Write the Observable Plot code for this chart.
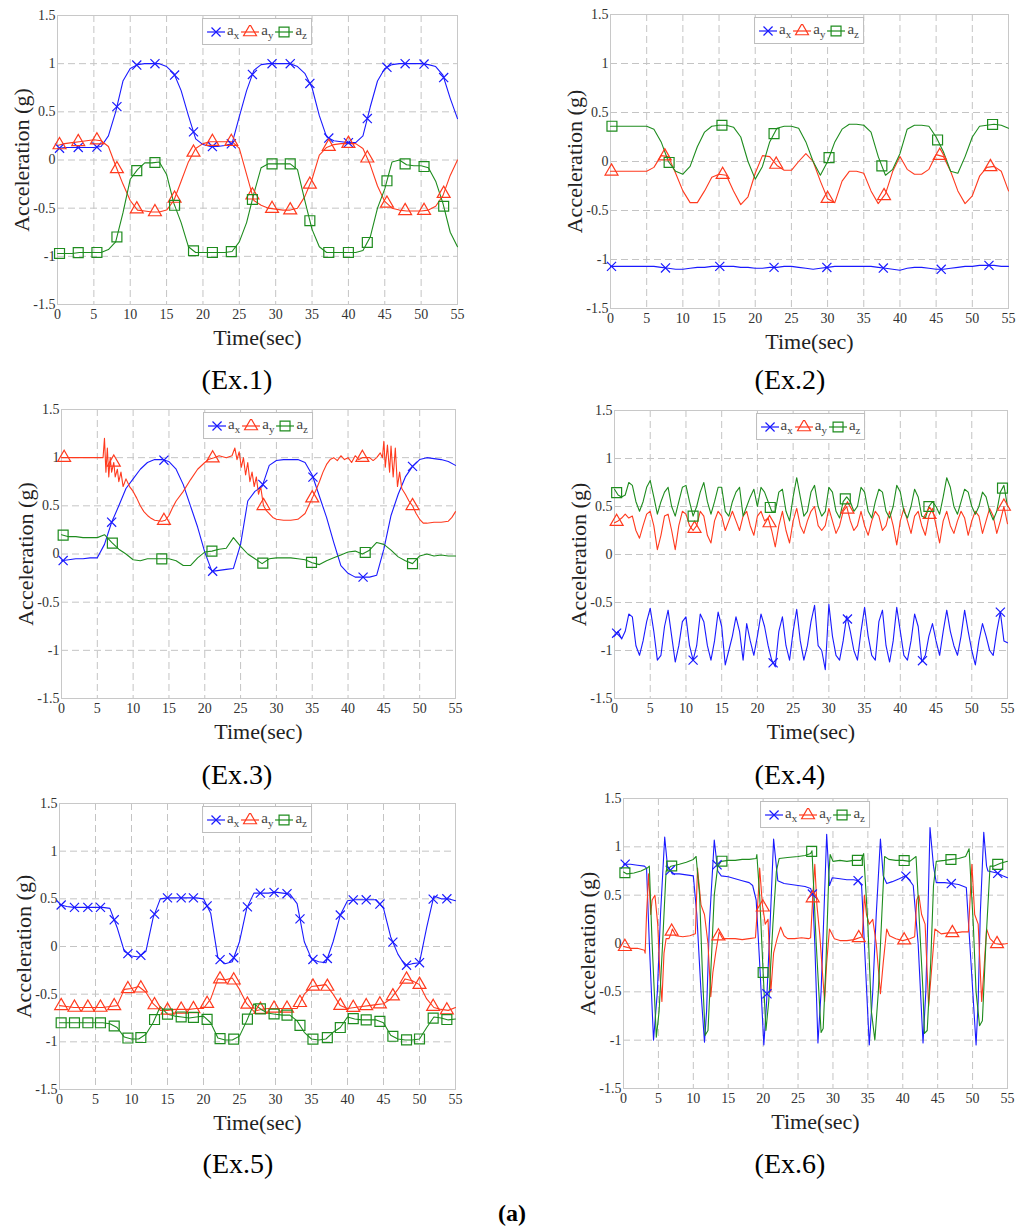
<!DOCTYPE html>
<html>
<head>
<meta charset="utf-8">
<script src="https://cdn.jsdelivr.net/npm/d3@7"></script>
<script src="https://cdn.jsdelivr.net/npm/@observablehq/plot@0.6"></script>
<style>
  body { margin: 0; background: #fff; }
  #page { position: relative; width: 1024px; height: 1229px; overflow: hidden;
          font-family: "Liberation Serif", "DejaVu Serif", serif; }
  #page svg, #page svg text { font-family: "Liberation Serif", "DejaVu Serif", serif !important; }
  .panel { position: absolute; }
  .legend { position: absolute; display: flex; align-items: center; height: 25px; padding: 0 3px;
            border: 1px solid #bdbdbd; background: #fff; transform: translateX(-50%); }
  .legend .item { display: flex; align-items: center; }
  .legend .lab { font-size: 15px; color: #444; line-height: 1; margin: 0 1px 0 1px; }
  .legend sub { font-size: 11px; }
  .caption { position: absolute; width: 200px; text-align: center; font-size: 28px; line-height: 32px; color: #000; }
</style>
</head>
<body>
<div id="page"></div>
<script>
// sampling grids (seconds)
const secs = d3.range(0, 56);
const halfSecs = d3.range(0, 111).map(i => i / 2);
const xTicks = d3.range(0, 56, 5);
const yTicks = [-1.5, -1, -0.5, 0, 0.5, 1, 1.5];

// ---- Ex.1 (1 s grid)
const ex1Ax = [0.12,0.13,0.13,0.13,0.13,0.13,0.14,0.25,0.5,0.82,
  0.95,0.99,1.0,1.0,1.0,0.97,0.9,0.72,0.46,0.22,
  0.16,0.14,0.14,0.15,0.17,0.45,0.72,0.93,0.99,1.0,
  1.0,1.0,1.0,0.97,0.9,0.75,0.46,0.24,0.2,0.19,
  0.18,0.18,0.25,0.55,0.82,0.95,0.99,1.0,1.0,1.0,
  1.0,0.99,0.97,0.88,0.64,0.43];
const ex1Ay = [0.15,0.17,0.18,0.19,0.2,0.21,0.2,0.14,-0.06,-0.25,
  -0.42,-0.52,-0.53,-0.54,-0.54,-0.52,-0.42,-0.22,-0.02,0.12,
  0.17,0.19,0.19,0.19,0.19,0.12,-0.15,-0.42,-0.47,-0.5,
  -0.51,-0.52,-0.52,-0.5,-0.38,-0.2,0.05,0.13,0.16,0.17,
  0.17,0.17,0.12,-0.05,-0.27,-0.43,-0.5,-0.52,-0.53,-0.53,
  -0.53,-0.52,-0.48,-0.37,-0.16,0.0];
const ex1Az = [-0.97,-0.97,-0.97,-0.96,-0.96,-0.96,-0.96,-0.93,-0.85,-0.55,
  -0.2,-0.1,-0.03,-0.03,-0.02,-0.15,-0.45,-0.65,-0.9,-0.96,
  -0.96,-0.96,-0.96,-0.96,-0.95,-0.85,-0.65,-0.35,-0.08,-0.04,
  -0.04,-0.04,-0.04,-0.1,-0.42,-0.72,-0.9,-0.96,-0.96,-0.96,
  -0.96,-0.96,-0.94,-0.8,-0.5,-0.3,-0.02,0.0,-0.05,-0.06,
  -0.06,-0.08,-0.22,-0.45,-0.75,-0.9];
const ex1Marks = [0.28,2.85,5.42,8.17,10.9,13.4,16.1,18.7,21.3,23.9,26.8,29.5,32.0,34.7,37.3,40.0,42.6,45.3,47.8,50.4,53.1];

// ---- Ex.2 (1 s grid)
const ex2Ax = [-1.07,-1.07,-1.07,-1.07,-1.07,-1.07,-1.07,-1.08,-1.09,-1.1,
  -1.1,-1.09,-1.08,-1.08,-1.07,-1.07,-1.07,-1.07,-1.08,-1.08,
  -1.09,-1.09,-1.08,-1.08,-1.07,-1.07,-1.08,-1.09,-1.1,-1.09,
  -1.08,-1.07,-1.07,-1.07,-1.07,-1.07,-1.07,-1.08,-1.09,-1.1,
  -1.11,-1.09,-1.08,-1.08,-1.09,-1.1,-1.1,-1.09,-1.08,-1.07,
  -1.07,-1.06,-1.06,-1.06,-1.07,-1.07];
const ex2Ay = [-0.1,-0.1,-0.1,-0.1,-0.1,-0.1,-0.06,0.06,0.05,-0.12,
  -0.3,-0.42,-0.42,-0.3,-0.16,-0.13,-0.14,-0.3,-0.44,-0.36,
  -0.12,0.06,0.05,-0.04,-0.09,-0.09,0.0,0.08,0.0,-0.2,
  -0.38,-0.42,-0.2,-0.1,-0.1,-0.12,-0.3,-0.43,-0.33,-0.1,
  0.05,-0.08,-0.13,-0.13,-0.08,0.07,0.05,-0.1,-0.3,-0.43,
  -0.35,-0.15,-0.06,-0.05,-0.1,-0.3];
const ex2Az = [0.36,0.36,0.36,0.36,0.36,0.36,0.33,0.2,0.0,-0.1,
  -0.13,-0.05,0.15,0.3,0.36,0.37,0.37,0.35,0.25,0.0,
  -0.18,-0.05,0.2,0.34,0.36,0.36,0.34,0.2,0.0,-0.14,
  0.0,0.2,0.33,0.38,0.38,0.37,0.3,0.05,-0.14,-0.08,
  0.08,0.33,0.37,0.37,0.36,0.25,0.1,-0.1,-0.12,0.05,
  0.25,0.36,0.37,0.38,0.37,0.34];
const ex2MarksAx = [0.14,7.6,15.1,22.6,29.9,37.7,45.7,52.3];
const ex2MarksAy = [0.14,7.5,15.5,22.9,30.0,37.8,45.5,52.5];
const ex2MarksAz = [0.2,8.1,15.4,22.6,30.2,37.5,45.2,52.8];

// ---- Ex.3 (1 s grid for ax/az, vertices for the noisy ay)
const ex3Ax = [-0.07,-0.06,-0.05,-0.05,-0.04,-0.04,0.1,0.33,0.5,0.68,
  0.78,0.88,0.95,0.98,0.98,0.96,0.88,0.72,0.5,0.28,
  0.02,-0.18,-0.17,-0.16,-0.15,0.1,0.55,0.65,0.7,0.92,
  0.97,0.98,0.98,0.98,0.95,0.82,0.6,0.38,0.12,-0.12,
  -0.2,-0.24,-0.24,-0.24,-0.22,0.05,0.4,0.62,0.8,0.91,
  0.98,1.0,0.99,0.98,0.96,0.92];
const ex3Ay = [[0,1.0],[2,1.0],[4,1.0],[5.8,1.0],[6.0,1.2],[6.2,0.85],[6.4,1.1],[6.6,0.8],[6.8,1.0],[7.0,0.85],
  [7.3,0.95],[7.5,0.8],[7.8,0.88],[8.0,0.75],[8.3,0.85],[8.6,0.7],[9.0,0.78],[9.5,0.7],[10,0.65],[10.5,0.58],
  [11,0.5],[11.5,0.44],[12,0.4],[12.5,0.37],[13,0.35],[14,0.34],[14.5,0.35],[15,0.4],[15.5,0.48],[16,0.55],
  [17,0.65],[18,0.77],[19,0.88],[20,0.95],[20.5,0.98],[21.3,1.0],[22,1.02],[23,1.0],[23.8,1.02],[24.2,1.1],
  [24.5,0.98],[24.8,1.06],[25.1,0.9],[25.4,1.0],[25.7,0.82],[26,0.95],[26.3,0.75],[26.6,0.85],[26.9,0.7],[27.2,0.8],
  [27.5,0.62],[27.8,0.7],[28.2,0.5],[28.6,0.45],[29,0.42],[29.5,0.38],[30,0.36],[31,0.35],[32,0.35],[33,0.36],
  [34,0.42],[34.5,0.5],[35,0.58],[35.5,0.66],[36,0.75],[36.5,0.85],[37,0.93],[37.5,0.98],[38,1.0],[38.5,0.97],
  [39,1.02],[39.5,0.98],[40,1.0],[40.5,0.95],[41,1.02],[41.5,0.98],[42,1.0],[43,1.0],[43.5,0.97],[44,1.0],
  [44.5,1.05],[44.8,1.0],[45,1.17],[45.2,0.9],[45.5,1.13],[45.8,0.85],[46,1.12],[46.3,0.8],[46.6,1.1],[46.9,0.7],
  [47.2,0.85],[47.5,0.68],[48,0.62],[48.5,0.55],[49,0.5],[49.5,0.42],[50,0.36],[50.5,0.32],[51,0.32],[52,0.33],
  [53,0.33],[54,0.34],[54.5,0.38],[55,0.44]];
const ex3Az = [0.2,0.18,0.18,0.17,0.17,0.17,0.2,0.12,0.05,0.0,
  -0.06,-0.07,-0.05,-0.05,-0.05,-0.05,-0.07,-0.12,-0.12,-0.04,
  0.02,0.03,0.05,0.06,0.17,0.08,0.0,-0.05,-0.1,-0.05,
  -0.04,-0.04,-0.04,-0.05,-0.06,-0.09,-0.11,-0.07,-0.04,-0.01,
  0.02,0.03,0.0,0.04,0.12,0.1,0.04,-0.03,-0.07,-0.1,
  -0.02,0.0,-0.02,-0.01,-0.02,-0.02];
const ex3MarksAx = [0.23,7.0,14.3,21.1,28.1,35.1,42.1,49.0];
const ex3MarksAy = [0.37,7.3,14.3,21.1,28.2,35.0,42.0,49.0];
const ex3MarksAz = [0.23,7.1,14.0,21.0,28.1,34.9,42.4,49.0];

// ---- Ex.4 (0.5 s grid)
const ex4Ax = [-0.85,-0.8,-0.88,-0.8,-0.62,-0.65,-0.95,-1.05,-0.9,-0.7,
  -0.56,-0.8,-1.1,-1.05,-0.75,-0.58,-0.85,-1.12,-0.95,-0.7,
  -0.65,-0.95,-1.1,-0.95,-0.62,-0.7,-0.95,-1.1,-0.9,-0.6,
  -0.75,-1.15,-1.0,-0.85,-0.65,-0.8,-1.1,-0.72,-0.9,-1.05,
  -0.85,-0.62,-0.75,-0.95,-1.1,-1.17,-0.8,-0.65,-0.95,-1.1,
  -0.8,-0.57,-0.9,-1.1,-0.95,-0.7,-0.53,-0.95,-1.0,-1.2,
  -0.52,-0.85,-1.05,-1.1,-0.9,-0.64,-0.8,-1.0,-1.1,-0.8,
  -0.55,-0.85,-1.05,-1.1,-0.7,-0.58,-0.95,-1.12,-0.9,-0.55,
  -0.8,-1.05,-1.1,-0.9,-0.62,-0.75,-1.12,-1.05,-0.85,-0.72,
  -0.9,-1.05,-0.8,-0.58,-0.8,-0.95,-1.05,-0.85,-0.58,-0.8,
  -1.0,-1.15,-0.9,-0.72,-0.85,-1.0,-1.05,-0.8,-0.6,-0.9,
  -0.92];
const ex4Ay = [0.33,0.35,0.38,0.42,0.38,0.4,0.25,0.17,0.3,0.42,
  0.45,0.3,0.05,0.2,0.4,0.42,0.25,0.05,0.3,0.45,
  0.42,0.3,0.25,0.3,0.45,0.4,0.2,0.12,0.35,0.45,
  0.4,0.25,0.35,0.45,0.35,0.25,0.4,0.45,0.3,0.2,
  0.4,0.45,0.35,0.38,0.25,0.08,0.3,0.45,0.25,0.12,
  0.35,0.48,0.3,0.22,0.35,0.45,0.5,0.3,0.25,0.3,
  0.48,0.35,0.22,0.3,0.45,0.5,0.35,0.25,0.3,0.45,
  0.3,0.2,0.35,0.45,0.4,0.25,0.3,0.45,0.3,0.1,
  0.35,0.48,0.35,0.22,0.4,0.45,0.3,0.2,0.4,0.48,
  0.3,0.12,0.35,0.45,0.3,0.22,0.35,0.45,0.38,0.2,
  0.35,0.45,0.4,0.22,0.35,0.48,0.4,0.22,0.35,0.5,
  0.32];
const ex4Az = [0.68,0.62,0.6,0.62,0.75,0.72,0.55,0.45,0.55,0.7,
  0.77,0.6,0.42,0.55,0.65,0.7,0.5,0.4,0.55,0.7,
  0.72,0.55,0.4,0.5,0.65,0.75,0.55,0.42,0.55,0.7,
  0.7,0.45,0.4,0.55,0.65,0.7,0.4,0.5,0.6,0.68,
  0.5,0.7,0.65,0.55,0.45,0.45,0.65,0.68,0.45,0.35,
  0.6,0.8,0.6,0.4,0.45,0.65,0.72,0.5,0.4,0.45,
  0.7,0.65,0.45,0.38,0.55,0.6,0.55,0.45,0.5,0.7,
  0.65,0.45,0.38,0.55,0.68,0.65,0.45,0.38,0.5,0.72,
  0.65,0.45,0.38,0.5,0.68,0.6,0.4,0.38,0.5,0.55,
  0.5,0.42,0.6,0.8,0.7,0.5,0.42,0.55,0.68,0.65,
  0.5,0.42,0.5,0.65,0.6,0.45,0.36,0.45,0.65,0.72,
  0.5];
const ex4MarksAx = [0.3,11,22.2,32.6,43.1,54];
const ex4MarksAy = [0.3,11.2,21.7,32.6,44.1,54.5];
const ex4MarksAz = [0.3,11.0,21.8,32.3,44.0,54.3];

// ---- Ex.5 (1 s grid)
const ex5Ax = [0.44,0.42,0.41,0.41,0.41,0.41,0.41,0.4,0.2,-0.05,
  -0.1,-0.11,-0.05,0.3,0.5,0.51,0.51,0.51,0.51,0.51,
  0.5,0.35,-0.12,-0.18,-0.16,0.05,0.4,0.56,0.56,0.56,
  0.57,0.56,0.55,0.45,0.05,-0.13,-0.16,-0.17,0.05,0.33,
  0.48,0.49,0.49,0.49,0.49,0.4,0.1,-0.08,-0.2,-0.18,
  -0.17,0.2,0.53,0.5,0.5,0.48];
const ex5Ay = [-0.62,-0.63,-0.64,-0.64,-0.64,-0.64,-0.64,-0.63,-0.62,-0.45,
  -0.44,-0.42,-0.48,-0.6,-0.67,-0.67,-0.66,-0.66,-0.66,-0.65,
  -0.65,-0.55,-0.34,-0.35,-0.33,-0.45,-0.6,-0.68,-0.66,-0.65,
  -0.65,-0.65,-0.65,-0.65,-0.5,-0.42,-0.41,-0.4,-0.5,-0.62,
  -0.65,-0.64,-0.63,-0.62,-0.61,-0.6,-0.55,-0.45,-0.34,-0.36,
  -0.4,-0.55,-0.64,-0.66,-0.67,-0.64];
const ex5Az = [-0.8,-0.8,-0.8,-0.8,-0.8,-0.8,-0.8,-0.81,-0.85,-0.95,
  -0.97,-0.97,-0.92,-0.8,-0.63,-0.71,-0.73,-0.74,-0.75,-0.74,
  -0.73,-0.8,-0.96,-0.98,-0.98,-0.94,-0.78,-0.6,-0.66,-0.7,
  -0.71,-0.72,-0.72,-0.78,-0.9,-0.97,-0.98,-0.97,-0.9,-0.85,
  -0.74,-0.76,-0.77,-0.77,-0.77,-0.8,-0.93,-0.97,-0.98,-0.98,
  -0.97,-0.85,-0.74,-0.75,-0.77,-0.76];
const ex5Marks = [0.23,2.08,3.94,5.69,7.6,9.5,11.3,13.2,15.0,16.9,18.6,20.5,22.3,24.2,26.1,27.9,29.8,31.6,33.4,35.2,37.2,39.0,40.8,42.6,44.5,46.3,48.2,50.0,51.9,53.8];

// ---- Ex.6 (vertices [t, value])
const ex6Ax = [[0,0.82],[1,0.82],[2,0.81],[3,0.8],[3.3,0.78],[3.7,0.0],[4.3,-1.0],[4.85,-0.5],[5.3,0.3],[5.9,1.1],
  [6.3,0.8],[6.6,0.77],[7,0.72],[8,0.72],[9,0.71],[10,0.7],[10.5,0.3],[11.1,-0.5],[11.6,-1.02],[11.9,-0.7],
  [12.3,0.2],[13,1.07],[13.5,0.75],[14,0.7],[15,0.69],[16,0.67],[17,0.65],[18,0.63],[18.5,0.6],[19,0.45],
  [19.5,-0.2],[20.1,-1.05],[20.5,-0.6],[21,0.2],[21.5,1.08],[22.1,0.65],[23,0.62],[24,0.61],[25,0.6],[26,0.59],
  [26.8,0.57],[27.1,0.5],[27.4,0.0],[27.85,-1.03],[28.3,-0.5],[28.7,0.3],[29.1,1.13],[29.5,0.6],[29.9,0.68],[31,0.67],
  [32,0.66],[33,0.66],[33.6,0.65],[34.1,0.6],[34.5,0.0],[35.2,-1.05],[35.7,-0.5],[36.2,0.3],[36.8,1.08],[37.2,0.7],
  [37.7,0.62],[38.5,0.64],[39.5,0.67],[40.4,0.7],[41,0.65],[41.5,0.6],[42.2,0.0],[42.9,-1.03],[43.3,-0.5],[43.6,0.3],
  [43.9,1.2],[44.4,0.8],[44.8,0.63],[46,0.63],[47,0.62],[48,0.61],[49.1,0.58],[49.6,0.0],[50.5,-1.05],[50.8,-0.6],
  [51.1,0.3],[51.6,1.15],[52,0.8],[52.2,0.75],[53.5,0.73],[54.3,0.7],[55,0.68]];
const ex6Ay = [[0,-0.03],[1,-0.05],[2,-0.05],[3,-0.07],[3.1,-0.1],[3.3,0.3],[3.6,0.72],[3.9,0.3],[4.1,0.45],[4.5,0.5],
  [4.9,0.2],[5.2,-0.3],[5.5,-0.6],[5.8,-0.1],[6.1,0.05],[6.5,0.05],[6.8,0.1],[7,0.15],[7.5,0.08],[8.5,0.07],
  [9.5,0.08],[10.3,0.1],[10.6,0.78],[11.1,0.4],[11.6,0.3],[12.1,0.0],[12.5,-0.55],[12.8,-0.3],[13.2,-0.1],[13.7,0.12],
  [14.2,0.05],[15,0.05],[16,0.05],[17,0.04],[18,0.05],[18.9,0.06],[19.3,0.5],[19.5,0.78],[19.9,0.4],[20.3,0.2],
  [20.7,0.25],[21.1,-0.5],[21.5,-0.1],[22,0.05],[22.5,0.17],[23,0.08],[23.5,0.05],[24.5,0.05],[25.5,0.06],[26.5,0.05],
  [26.8,0.06],[27.1,0.47],[27.4,0.82],[27.7,0.4],[28.1,0.1],[28.6,-0.4],[28.8,-0.6],[29.1,-0.2],[29.5,0.15],[30.2,0.05],
  [31,0.03],[32,0.03],[33,0.04],[34.2,0.07],[34.5,0.5],[34.8,0.3],[35.2,0.2],[35.7,0.25],[36.2,0.0],[36.8,-0.52],
  [37.2,-0.2],[37.7,0.15],[38.1,0.08],[39,0.05],[40,0.03],[41,0.05],[41.7,0.07],[42,0.45],[42.3,0.5],[42.7,0.3],
  [43.2,0.2],[43.7,-0.65],[44.2,-0.2],[44.6,0.15],[45.5,0.1],[46.5,0.11],[47.5,0.11],[48.5,0.12],[49.4,0.12],[49.9,0.82],
  [50.3,0.3],[50.8,0.2],[51.3,-0.6],[51.6,-0.3],[52,0.15],[52.5,0.05],[53.2,0.0],[54,-0.01],[55,0.0]];
const ex6Az = [[0,0.74],[0.5,0.72],[1.5,0.73],[2.5,0.75],[3.4,0.78],[3.7,0.8],[4.1,0.0],[4.7,-0.97],[5.1,-0.7],[5.6,0.0],
  [6.1,0.75],[6.8,0.8],[8,0.82],[9,0.84],[10,0.87],[10.4,0.9],[10.9,0.5],[11.3,-0.3],[11.7,-0.95],[12.1,-0.9],
  [12.5,-0.3],[13,0.5],[13.5,0.8],[14,0.85],[15,0.86],[16,0.86],[17,0.87],[18,0.87],[19,0.88],[19.1,0.92],
  [19.5,0.5],[20,-0.3],[20.4,-0.9],[20.8,-0.6],[21.4,0.2],[21.9,0.75],[22.3,0.88],[23.5,0.89],[25,0.9],[26,0.91],
  [26.8,0.93],[27,0.96],[27.6,0.0],[28.3,-0.92],[28.6,-0.88],[29,-0.2],[29.4,0.7],[29.6,0.92],[30,0.85],[31,0.86],
  [32,0.85],[33,0.86],[34,0.86],[34.4,0.93],[35,0.2],[35.5,-0.7],[36,-1.0],[36.5,-0.5],[37,0.3],[37.4,0.9],
  [38,0.87],[39,0.86],[40,0.86],[41,0.85],[41.9,0.9],[42.4,0.2],[42.9,-0.5],[43.1,-0.93],[43.5,-0.9],[44,-0.2],
  [44.4,0.6],[44.8,0.85],[46,0.86],[47,0.87],[48,0.88],[49,0.9],[49.5,0.98],[50.1,0.2],[50.5,-0.5],[51,-0.85],
  [51.4,-0.8],[51.9,0.0],[52.5,0.8],[53,0.8],[54,0.83],[55,0.85]];
const ex6MarksAx = [0.24,6.7,13.4,20.55,27.05,33.6,40.45,46.95,53.6];
const ex6MarksAy = [0.2,6.9,13.6,19.95,27.1,33.7,40.2,47.1,53.5];
const ex6MarksAz = [0.2,6.9,14.1,20.0,26.95,33.5,40.2,46.9,53.6];

// ---- styling
const keys = ["ax", "ay", "az"];
const colors = {ax: "#1a1aff", ay: "#ff3a1e", az: "#1e8c1e"};
const symbols = {ax: "times", ay: "triangle", az: "square"};
const d3symbols = {ax: d3.symbolTimes, ay: d3.symbolTriangle, az: d3.symbolSquare};
const radius = {ax: 4.2, ay: 4.8, az: 5.6};
const subs = {ax: "x", ay: "y", az: "z"};
const M = {left: 60, right: 12, top: 12, bottom: 58};
const serif = "'Liberation Serif', 'DejaVu Serif', serif";

const onGrid = (grid, vals) => vals.map((v, i) => [grid[i], v]);

// value of a series at time t (to sit the markers on the line)
function valueAt(pts, t) {
  const i = d3.bisector(d => d[0]).right(pts, t);
  if (i <= 0) return pts[0][1];
  if (i >= pts.length) return pts[pts.length - 1][1];
  const [t0, v0] = pts[i - 1], [t1, v1] = pts[i];
  return v0 + (v1 - v0) * (t - t0) / (t1 - t0);
}

const panels = [
  {caption: "(Ex.1)", left: 57, top: 15, w: 400, h: 289, cx: 237, cy: 380,
   series: {ax: onGrid(secs, ex1Ax), ay: onGrid(secs, ex1Ay), az: onGrid(secs, ex1Az)},
   marks: {ax: ex1Marks, ay: ex1Marks, az: ex1Marks}},
  {caption: "(Ex.2)", left: 610, top: 14, w: 398, h: 294, cx: 790, cy: 380,
   series: {ax: onGrid(secs, ex2Ax), ay: onGrid(secs, ex2Ay), az: onGrid(secs, ex2Az)},
   marks: {ax: ex2MarksAx, ay: ex2MarksAy, az: ex2MarksAz}},
  {caption: "(Ex.3)", left: 61, top: 409, w: 394, h: 289, cx: 237, cy: 775,
   series: {ax: onGrid(secs, ex3Ax), ay: ex3Ay, az: onGrid(secs, ex3Az)},
   marks: {ax: ex3MarksAx, ay: ex3MarksAy, az: ex3MarksAz}},
  {caption: "(Ex.4)", left: 614, top: 410, w: 393, h: 288, cx: 790, cy: 775,
   series: {ax: onGrid(halfSecs, ex4Ax), ay: onGrid(halfSecs, ex4Ay), az: onGrid(halfSecs, ex4Az)},
   marks: {ax: ex4MarksAx, ay: ex4MarksAy, az: ex4MarksAz}},
  {caption: "(Ex.5)", left: 59, top: 803, w: 396, h: 286, cx: 238, cy: 1164,
   series: {ax: onGrid(secs, ex5Ax), ay: onGrid(secs, ex5Ay), az: onGrid(secs, ex5Az)},
   marks: {ax: ex5Marks, ay: ex5Marks, az: ex5Marks}},
  {caption: "(Ex.6)", left: 623, top: 798, w: 384, h: 290, cx: 790, cy: 1164,
   series: {ax: ex6Ax, ay: ex6Ay, az: ex6Az},
   marks: {ax: ex6MarksAx, ay: ex6MarksAy, az: ex6MarksAz}}
];

const page = d3.select("#page");

for (const p of panels) {
  const lineMarks = [], dotMarks = [];
  for (const k of keys) {
    const rows = p.series[k].map(([t, v]) => ({t, v}));
    const dots = p.marks[k].map(t => ({t, v: valueAt(p.series[k], t)}));
    lineMarks.push(Plot.line(rows, {x: "t", y: "v", stroke: colors[k], strokeWidth: 1.1}));
    dotMarks.push(Plot.dot(dots, {x: "t", y: "v", symbol: symbols[k], r: radius[k],
      stroke: colors[k], fill: "none", strokeWidth: 1.2}));
  }

  const chart = Plot.plot({
    width: M.left + p.w + M.right,
    height: M.top + p.h + M.bottom,
    marginLeft: M.left, marginRight: M.right, marginTop: M.top, marginBottom: M.bottom,
    x: {domain: [0, 55], ticks: xTicks, tickSize: 0, tickPadding: 5, label: null},
    y: {domain: [-1.5, 1.5], ticks: yTicks, tickSize: 0, tickPadding: 2, label: null,
        tickFormat: d => String(d)},
    style: {fontFamily: serif, fontSize: "14px", color: "#333",
            background: "transparent", overflow: "visible"},
    marks: [
      Plot.ruleX(xTicks, {stroke: "#c4c4c4", strokeDasharray: "7,4"}),
      Plot.ruleY(yTicks, {stroke: "#c4c4c4", strokeDasharray: "7,4"}),
      Plot.frame({stroke: "#c8c8c8"}),
      ...lineMarks,
      ...dotMarks,
      Plot.text(["Time(sec)"], {text: d => d, frameAnchor: "bottom", dy: 33, fontSize: 22,
        fontFamily: serif, fill: "#222", textAnchor: "middle", lineAnchor: "middle"}),
      Plot.text(["Acceleration (g)"], {text: d => d, frameAnchor: "left", dx: -36, rotate: -90,
        fontSize: 22, fontFamily: serif, fill: "#222", textAnchor: "middle", lineAnchor: "middle"})
    ]
  });

  page.append("div").attr("class", "panel")
    .style("left", (p.left - M.left) + "px")
    .style("top", (p.top - M.top) + "px")
    .append(() => chart);

  // legend box at the top centre of each frame
  const leg = page.append("div").attr("class", "legend")
    .style("left", (p.left + p.w / 2) + "px")
    .style("top", (p.top + 3) + "px");
  for (const k of keys) {
    const it = leg.append("div").attr("class", "item");
    const s = it.append("svg").attr("width", 20).attr("height", 14);
    s.append("line").attr("x1", 1).attr("x2", 19).attr("y1", 7).attr("y2", 7)
      .attr("stroke", colors[k]).attr("stroke-width", 1.2);
    s.append("path").attr("d", d3.symbol(d3symbols[k], Math.PI * radius[k] * radius[k])())
      .attr("transform", "translate(10,7)").attr("fill", "none")
      .attr("stroke", colors[k]).attr("stroke-width", 1.2);
    it.append("span").attr("class", "lab").html(`a<sub>${subs[k]}</sub>`);
  }

  page.append("div").attr("class", "caption")
    .style("left", (p.cx - 100) + "px")
    .style("top", (p.cy - 16) + "px")
    .text(p.caption);
}

page.append("div").attr("class", "caption")
  .style("left", "412px").style("top", "1197px")
  .style("font-weight", "bold").style("font-size", "24px")
  .html("(<b>a</b>)");
</script>
</body>
</html>
